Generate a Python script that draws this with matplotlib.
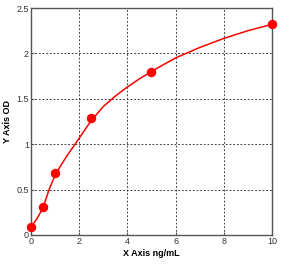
import matplotlib.pyplot as plt
import numpy as np

# standard points
conc = [0, 0.5, 1, 2.5, 5, 10]
od = [0.09, 0.31, 0.686, 1.285, 1.79, 2.32]

# fitted curve
curve_x = [0, 0.25, 0.5, 0.75, 1, 1.25, 1.5, 1.83, 2.2, 2.5, 3, 3.5, 4, 4.5, 5, 5.5, 6, 7, 8, 9, 10]
curve_y = [0.09, 0.18, 0.30, 0.50, 0.66, 0.77, 0.875, 1.0, 1.145, 1.26, 1.415, 1.53, 1.63, 1.72, 1.80, 1.877, 1.95, 2.065, 2.165, 2.25, 2.32]

xticks = [0, 2, 4, 6, 8, 10]
yticks = [0, 0.5, 1, 1.5, 2, 2.5]
ytick_labels = ['0', '0.5', '1', '1.5', '2', '2.5']

plt.rcParams['font.family'] = ['Liberation Sans', 'DejaVu Sans']

fig = plt.figure(figsize=(3.02, 2.67), dpi=100)
ax = fig.add_axes([0.1026, 0.1199, 0.798, 0.8501])

ax.plot(curve_x, curve_y, color='#ff0000', lw=1.1, zorder=3, solid_joinstyle='round')
ax.plot(conc, od, 'o', color='#ff0000', ms=5.8, zorder=4, clip_on=False)

ax.set_xlim(0, 10)
ax.set_ylim(0, 2.5)
ax.set_xticks(xticks)
ax.set_yticks(yticks)
ax.set_yticklabels(ytick_labels)
ax.grid(True, color='#222222', lw=0.6, linestyle=(0, (2.2, 2.2)))
ax.set_axisbelow(True)

for s in ax.spines.values():
    s.set_color('#555555')
    s.set_linewidth(1.0)

ax.tick_params(direction='in', length=2.5, width=0.8, color='#555555',
               labelsize=6.5, labelcolor='#333333', pad=1.5)

ax.set_xlabel('X Axis ng/mL', fontsize=6.5, fontweight='bold', labelpad=2)
ax.set_ylabel('Y Axis OD', fontsize=6.5, fontweight='bold', labelpad=3)

fig.savefig('out.png', dpi=100)
